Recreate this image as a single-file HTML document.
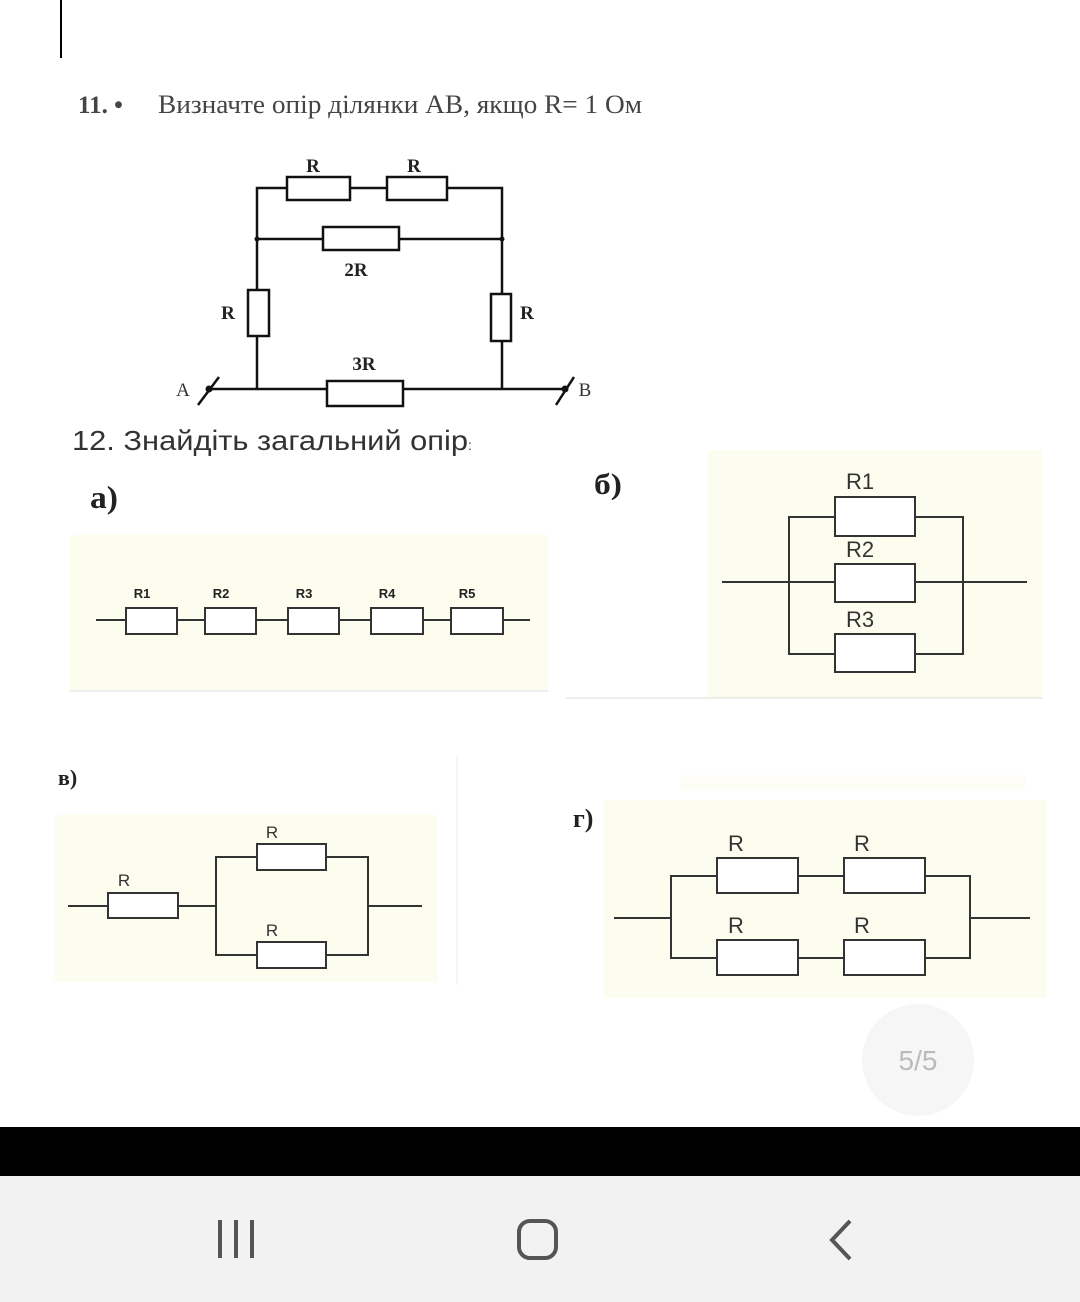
<!DOCTYPE html>
<html><head><meta charset="utf-8"><style>
body{margin:0;width:1080px;height:1302px;background:#fff;overflow:hidden}
svg{display:block}
.s{font-family:"Liberation Serif",serif}
.a{font-family:"Liberation Sans",sans-serif}
</style></head><body>
<svg width="1080" height="1302" viewBox="0 0 1080 1302">
<rect x="60" y="0" width="2" height="58" fill="#000"/>
<text x="78" y="113" class="s" font-size="25" font-weight="bold" fill="#444">11. •</text>
<text x="158" y="113" class="s" font-size="26" fill="#444" textLength="484" lengthAdjust="spacingAndGlyphs">Визначте опір ділянки АВ, якщо R= 1 Ом</text>
<g stroke="#111" stroke-width="2.5" fill="#fff">
<polyline points="257,389 257,188 502,188 502,389" fill="none"/>
<line x1="257" y1="239" x2="502" y2="239"/>
<line x1="208" y1="389" x2="565" y2="389"/>
<rect x="287" y="177" width="63" height="23"/><rect x="387" y="177" width="60" height="23"/>
<rect x="323" y="227" width="76" height="23"/>
<rect x="248" y="290" width="21" height="46"/><rect x="491" y="294" width="20" height="47"/>
<rect x="327" y="381" width="76" height="25"/>
<line x1="198" y1="405" x2="219" y2="377"/><line x1="556" y1="405" x2="574" y2="377"/>
</g>
<circle cx="209" cy="389" r="3.5" fill="#111"/><circle cx="565" cy="389" r="3.5" fill="#111"/>
<circle cx="257" cy="239" r="2.5" fill="#111"/><circle cx="502" cy="239" r="2.5" fill="#111"/>
<g class="s" font-size="19" font-weight="bold" fill="#222" text-anchor="middle">
<text x="313" y="172">R</text><text x="414" y="172">R</text><text x="356" y="276">2R</text>
<text x="228" y="319">R</text><text x="527" y="319">R</text><text x="364" y="370">3R</text>
</g>
<text x="183" y="396" class="s" font-size="19" fill="#333" text-anchor="middle">A</text>
<text x="585" y="396" class="s" font-size="19" fill="#333" text-anchor="middle">B</text>
<text x="72" y="450" class="a" font-size="28" fill="#333"><tspan textLength="396" lengthAdjust="spacingAndGlyphs">12. Знайдіть загальний опір</tspan><tspan font-size="14">:</tspan></text>
<text x="90" y="508" class="s" font-size="32" font-weight="bold" fill="#222" textLength="28" lengthAdjust="spacingAndGlyphs">а)</text>
<text x="594" y="494" class="s" font-size="30" font-weight="bold" fill="#222" textLength="28" lengthAdjust="spacingAndGlyphs">б)</text>
<text x="58" y="785" class="s" font-size="22" font-weight="bold" fill="#222">в)</text>
<text x="573" y="827" class="s" font-size="26" font-weight="bold" fill="#222">г)</text>
<!-- a -->
<rect x="70" y="535" width="478" height="155" fill="#fcfcef"/>
<line x1="70" y1="691" x2="548" y2="691" stroke="#ddd"/>
<g stroke="#333" stroke-width="2" fill="#fff">
<line x1="96" y1="620" x2="530" y2="620"/>
<rect x="126" y="608" width="51" height="26"/><rect x="205" y="608" width="51" height="26"/>
<rect x="288" y="608" width="51" height="26"/><rect x="371" y="608" width="52" height="26"/>
<rect x="451" y="608" width="52" height="26"/>
</g>
<g class="a" font-size="13" font-weight="bold" fill="#222" text-anchor="middle">
<text x="142" y="598">R1</text><text x="221" y="598">R2</text><text x="304" y="598">R3</text><text x="387" y="598">R4</text><text x="467" y="598">R5</text>
</g>
<!-- b -->
<rect x="708" y="450" width="334" height="248" fill="#fcfcef"/>
<line x1="566" y1="698" x2="1042" y2="698" stroke="#ddd"/>
<g stroke="#333" stroke-width="2" fill="#fff">
<polyline points="835,517 789,517 789,654 835,654" fill="none"/>
<polyline points="915,517 963,517 963,654 915,654" fill="none"/>
<line x1="722" y1="582" x2="1027" y2="582"/>
<rect x="835" y="497" width="80" height="39"/><rect x="835" y="564" width="80" height="38"/><rect x="835" y="634" width="80" height="38"/>
</g>
<g class="a" font-size="22" fill="#333" text-anchor="middle">
<text x="860" y="489">R1</text><text x="860" y="557">R2</text><text x="860" y="627">R3</text>
</g>
<!-- v -->
<line x1="457" y1="755" x2="457" y2="985" stroke="#eee"/>
<rect x="55" y="815" width="382" height="167" fill="#fcfcef"/>
<g stroke="#333" stroke-width="2" fill="#fff">
<line x1="68" y1="906" x2="216" y2="906"/>
<polyline points="257,857 216,857 216,955 257,955" fill="none"/>
<polyline points="326,857 368,857 368,955 326,955" fill="none"/>
<line x1="368" y1="906" x2="422" y2="906"/>
<rect x="108" y="893" width="70" height="25"/>
<rect x="257" y="844" width="69" height="26"/><rect x="257" y="942" width="69" height="26"/>
</g>
<g class="a" font-size="17" fill="#333" text-anchor="middle">
<text x="124" y="886">R</text><text x="272" y="838">R</text><text x="272" y="936">R</text>
</g>
<!-- g -->
<rect x="680" y="775" width="345" height="14" fill="#fdfdf6"/>
<rect x="604" y="800" width="443" height="198" fill="#fcfcef"/>
<g stroke="#333" stroke-width="2" fill="#fff">
<line x1="614" y1="918" x2="671" y2="918"/>
<polyline points="717,876 671,876 671,958 717,958" fill="none"/>
<polyline points="925,876 970,876 970,958 925,958" fill="none"/>
<line x1="798" y1="876" x2="844" y2="876"/><line x1="798" y1="958" x2="844" y2="958"/>
<line x1="970" y1="918" x2="1030" y2="918"/>
<rect x="717" y="858" width="81" height="35"/><rect x="844" y="858" width="81" height="35"/>
<rect x="717" y="940" width="81" height="35"/><rect x="844" y="940" width="81" height="35"/>
</g>
<g class="a" font-size="22" fill="#333" text-anchor="middle">
<text x="736" y="851">R</text><text x="862" y="851">R</text><text x="736" y="933">R</text><text x="862" y="933">R</text>
</g>
<!-- page indicator -->
<circle cx="918" cy="1060" r="56" fill="#f6f6f6"/>
<text x="918" y="1070" class="a" font-size="28" fill="#bbb" text-anchor="middle">5/5</text>
<!-- bars -->
<rect x="0" y="1127" width="1080" height="49" fill="#000"/>
<rect x="0" y="1176" width="1080" height="126" fill="#f2f2f2"/>
<g fill="#555"><rect x="218" y="1220" width="4" height="38"/><rect x="234" y="1220" width="4" height="38"/><rect x="250" y="1220" width="4" height="38"/></g>
<rect x="519" y="1221" width="37" height="37" rx="11" fill="none" stroke="#555" stroke-width="4"/>
<polyline points="850,1221 832,1240 850,1259" fill="none" stroke="#555" stroke-width="4"/>
</svg>
</body></html>
